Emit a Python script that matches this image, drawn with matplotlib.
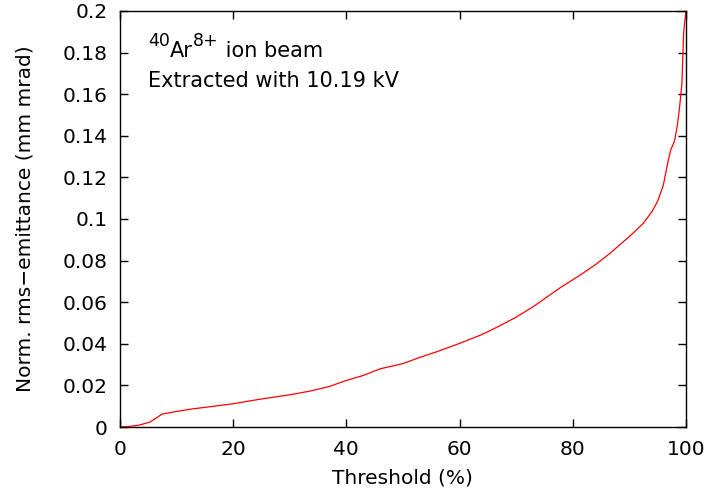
import matplotlib
matplotlib.use("Agg")
import matplotlib.pyplot as plt
from matplotlib.transforms import offset_copy

# Emittance vs threshold.
threshold = [0, 2, 3.5, 5.3, 6.5, 7.4, 10, 13, 16, 20, 25, 30, 33.6, 37, 40, 43,
             46, 50, 53, 56, 60, 64, 67, 70, 73, 77.7, 81.3, 84, 86.6, 88.5, 90.6, 92.5,
             94, 95, 96, 96.8, 97.3, 98, 98.5, 98.9, 99.3, 99.6, 100]
emittance = [0, 0.0004, 0.001, 0.0024, 0.0045, 0.0062, 0.0075, 0.0088, 0.0098, 0.0112,
             0.0135, 0.0155, 0.0173, 0.0195, 0.0224, 0.0248, 0.028, 0.0305, 0.0335,
             0.0362, 0.0402, 0.0445, 0.0485, 0.0528, 0.0578, 0.0668, 0.073, 0.078, 0.0835,
             0.088, 0.093, 0.098, 0.1035, 0.1085, 0.116, 0.127, 0.133, 0.1375, 0.145,
             0.154, 0.165, 0.189, 0.2]

x_ticks = [0, 20, 40, 60, 80, 100]
y_ticks = [0, 0.02, 0.04, 0.06, 0.08, 0.1, 0.12, 0.14, 0.16, 0.18, 0.2]
y_labels = ["0", "0.02", "0.04", "0.06", "0.08", "0.1", "0.12", "0.14", "0.16", "0.18", "0.2"]

plt.rcParams["font.family"] = "DejaVu Sans"
plt.rcParams["font.size"] = 14.5

fig = plt.figure(figsize=(7.1, 4.96), dpi=100)
ax = fig.add_axes([0.169, 0.139, 0.797, 0.839])
ax.plot(threshold, emittance, color="red", linewidth=0.9)

ax.set_xlim(0, 100)
ax.set_ylim(0, 0.2)
ax.set_xticks(x_ticks)
ax.set_yticks(y_ticks)
ax.set_yticklabels(y_labels)
ax.tick_params(direction="in", length=6, width=1, top=True, right=True, pad=9)
for s in ax.spines.values():
    s.set_linewidth(1)

ax.set_xlabel("Threshold (%)", labelpad=7)
ax.set_ylabel("Norm. rms\u2212emittance (mm mrad)", labelpad=20)

# first annotation line built piece by piece so the superscripts stay large
pieces = [("40", 12.5, 8), ("Ar", 15, 0), ("8+", 12.5, 8), (" ion beam", 15, 0)]
fig.canvas.draw()
renderer = fig.canvas.get_renderer()
trans = ax.transAxes
dx = 0
for s, fs, dy in pieces:
    t = ax.text(0.05, 0.91, s, fontsize=fs, va="baseline",
                transform=offset_copy(trans, fig=fig, x=dx, y=dy - 6, units="points"))
    w = t.get_window_extent(renderer).width
    dx += w * 72 / fig.dpi

ax.text(0.05, 0.832, "Extracted with 10.19 kV", transform=ax.transAxes,
        fontsize=15, va="center")

fig.savefig("out.png", dpi=100)
